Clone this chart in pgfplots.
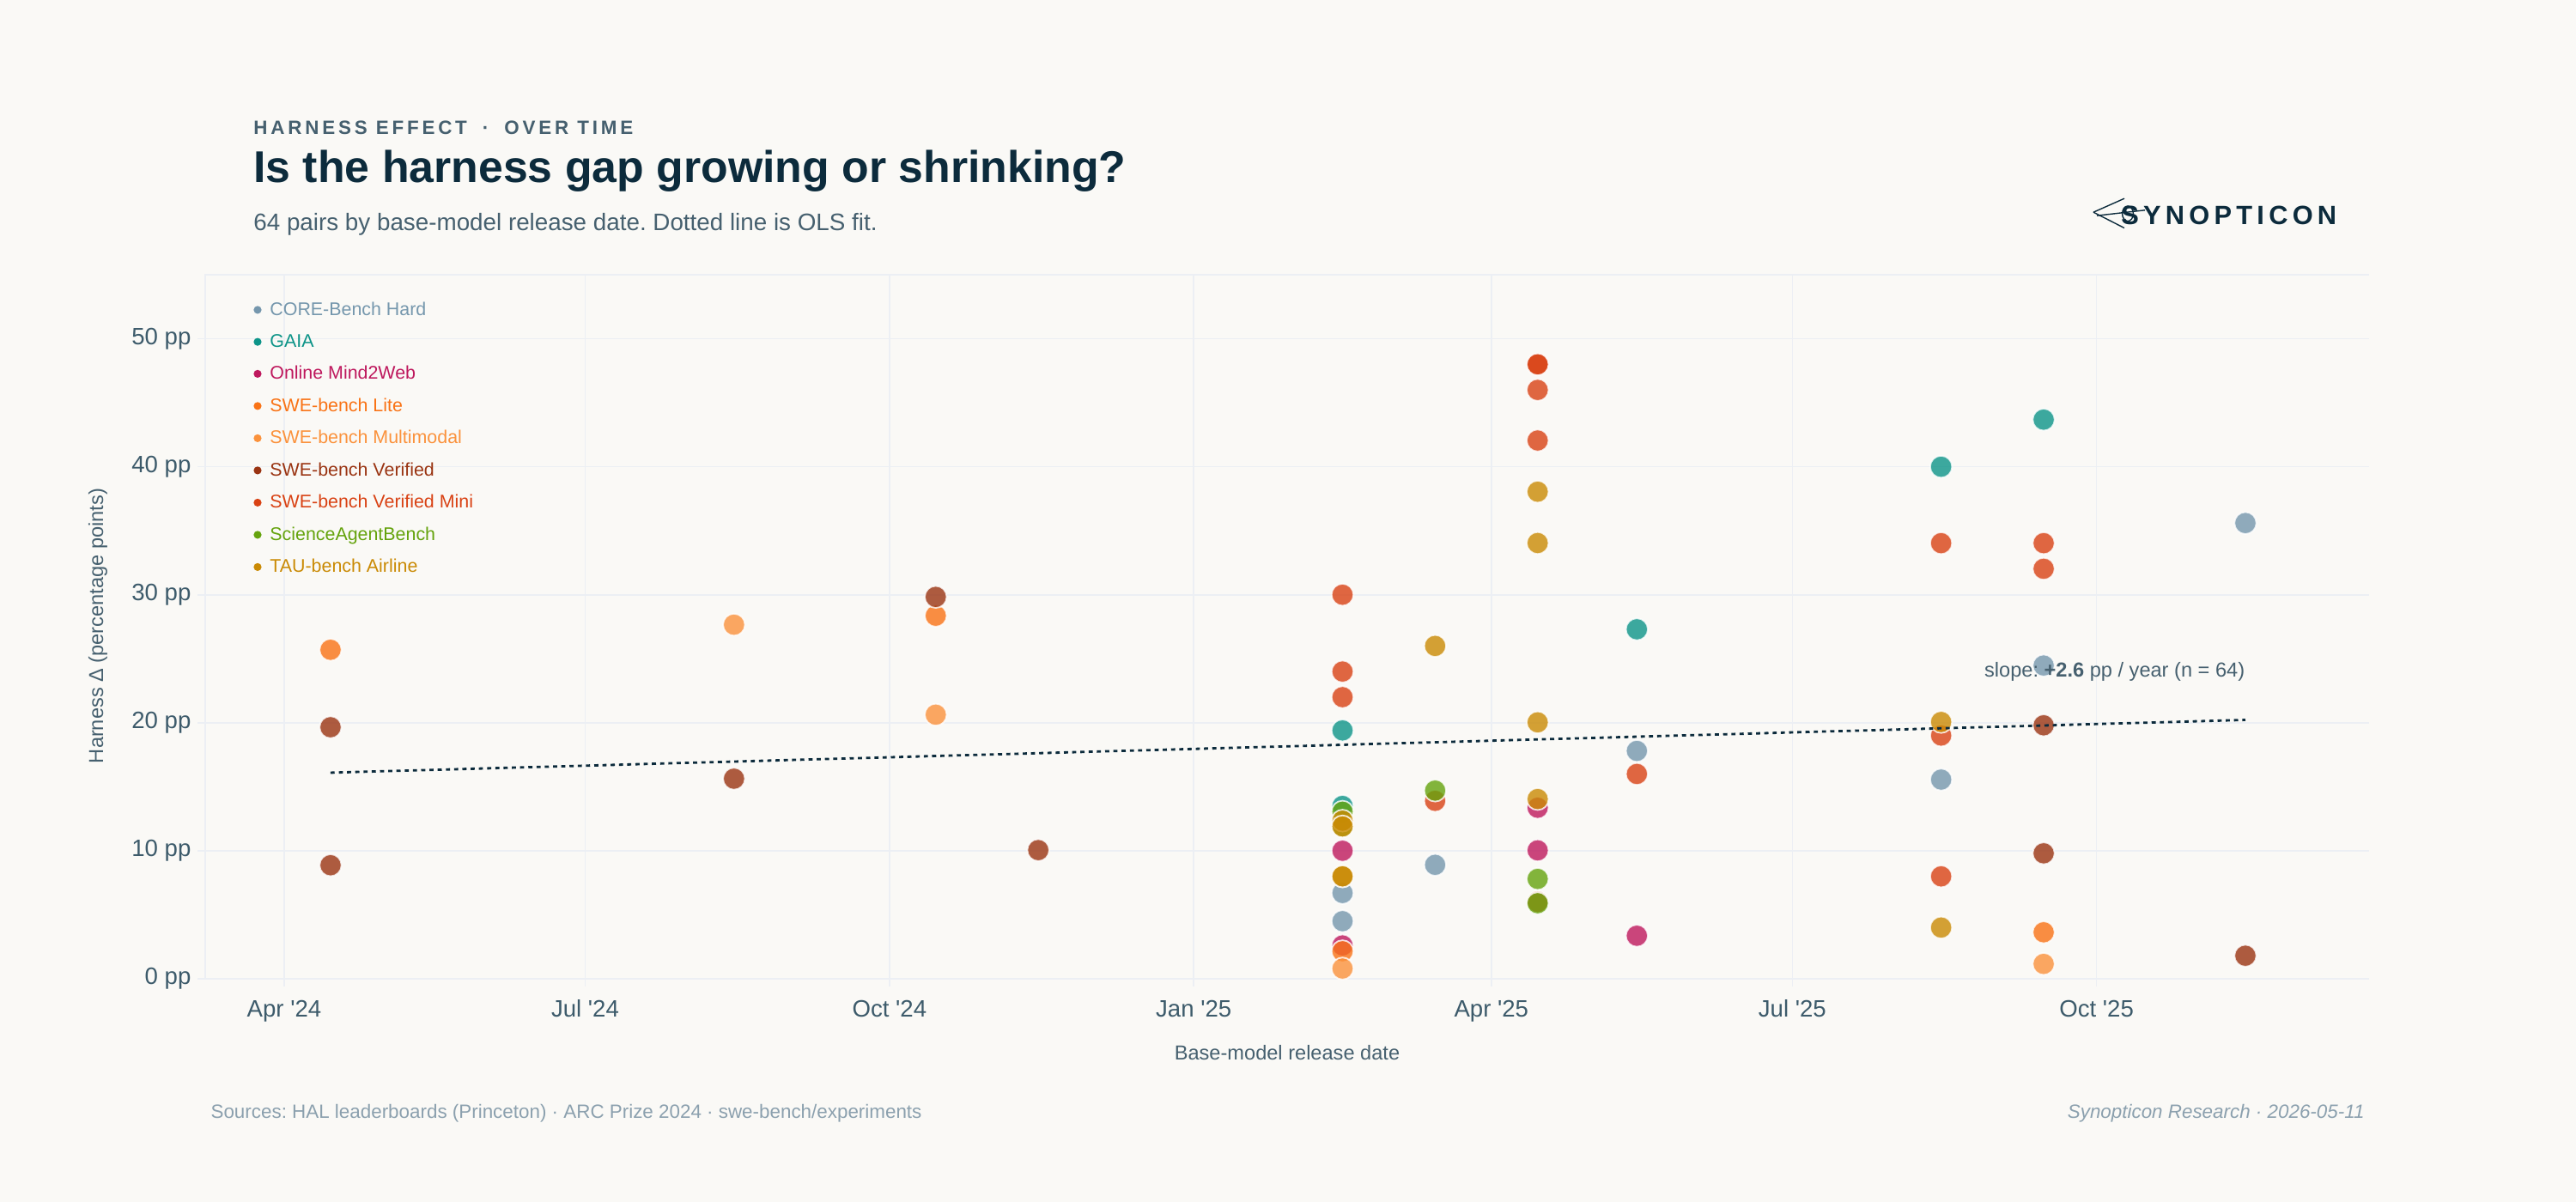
\documentclass[border=0pt]{standalone}
\usepackage{fontspec}
\setmainfont{Liberation Sans}
\usepackage{pgfplots}
\pgfplotsset{compat=1.18}
\frenchspacing

\definecolor{bg}{HTML}{FAF9F6}
\definecolor{navy}{HTML}{0C2B3C}
\definecolor{slate}{HTML}{46606F}
\definecolor{tickc}{HTML}{3D5B6B}
\definecolor{footc}{HTML}{8BA0AE}
\definecolor{gridc}{HTML}{ECEFF4}
\definecolor{cCORE}{HTML}{7597AD}
\definecolor{cGAIA}{HTML}{0D9488}
\definecolor{cM2W}{HTML}{BE185D}
\definecolor{cLITE}{HTML}{F97316}
\definecolor{cMM}{HTML}{FB923C}
\definecolor{cVER}{HTML}{9A3412}
\definecolor{cVM}{HTML}{D94214}
\definecolor{cSCI}{HTML}{65A30D}
\definecolor{cTAU}{HTML}{CA8A04}

\pgfplotsset{
  pt/.style={only marks, mark=*, mark size=3.2pt, draw=white, line width=0.45pt, opacity=0.8, fill=#1},
}

\begin{document}
\frenchspacing
\begin{tikzpicture}[x=1pt,y=1pt]
\fill[bg] (0,0) rectangle (750,350);

% header
\node[anchor=base west, inner sep=0pt, text=slate,
  font=\fontsize{5.6}{6}\selectfont\bfseries\addfontfeatures{LetterSpace=17}]
  at (73.65,310.9) {HARNESS EFFECT\hspace{4.5pt}·\hspace{4.5pt}OVER TIME};
\node[anchor=base west, inner sep=0pt, text=navy,
  font=\fontsize{12.95}{14}\selectfont\bfseries]
  at (73.65,296.8) {Is the harness gap growing or shrinking?};
\node[anchor=base west, inner sep=0pt, text=slate,
  font=\fontsize{6.95}{8}\selectfont]
  at (73.65,282.75) {64 pairs by base-model release date. Dotted line is OLS fit.};

% logo
\draw[navy, line width=0.35pt] (609.5,288.2) -- (618.5,292.2);
\draw[navy, line width=0.35pt] (609.5,288.2) -- (618.5,283.6);
\draw[navy, line width=0.35pt] (610.5,287.2) -- (624.5,288.8);
\draw[navy, line width=0.35pt] (619.5,287.8) ellipse (1.6pt and 2.2pt);
\node[anchor=base west, inner sep=0pt, text=navy,
  font=\fontsize{7.7}{8}\selectfont\bfseries\addfontfeatures{LetterSpace=17}]
  at (617.4,284.6) {SYNOPTICON};

\begin{axis}[
  at={(59.75pt,65pt)}, anchor=south west,
  scale only axis, width=630pt, height=205pt,
  xmin=67.11, xmax=721.4, ymin=0, ymax=55,
  xtick={91,182,274,366,456,547,639},
  xticklabels={Apr \textquotesingle24, Jul \textquotesingle24, Oct \textquotesingle24, Jan \textquotesingle25, Apr \textquotesingle25, Jul \textquotesingle25, Oct \textquotesingle25},
  ytick={0,10,20,30,40,50},
  yticklabels={0 pp,10 pp,20 pp,30 pp,40 pp,50 pp},
  xtick pos=bottom, ytick pos=left,
  grid=major, grid style={draw=gridc, line width=0.4pt},
  axis line style={draw=none},
  tick align=outside, major tick length=2.2pt,
  tick style={draw=gridc, line width=0.4pt},
  ticklabel style={font=\fontsize{6.9}{8}\selectfont, text=tickc},
  xticklabel style={anchor=base, inner sep=0pt, yshift=-8.9pt},
  yticklabel style={anchor=east, inner sep=0pt, xshift=-1.75pt},
  clip mode=individual,
  legend style={at={(rel axis cs:0,1)}, anchor=north west, xshift=14.1pt, yshift=-6.0pt,
    draw=none, fill=none, inner sep=0pt, outer sep=0pt,
    row sep=0pt, column sep=0.45pt,
    font=\fontsize{5.35}{6}\selectfont},
  legend cell align=left,
  legend image code/.code={\fill[#1, draw=none, opacity=1] (0pt,0.45pt) circle (1.15pt);},
]
\draw[gridc, line width=0.4pt] (rel axis cs:0,0) -- (rel axis cs:0,1) -- (rel axis cs:1,1);

\addplot[pt=cCORE] coordinates {(411,6.7) (411,4.5) (439,8.9) (500,17.8) (592,15.56) (623,24.47) (684,35.6)};
\addlegendentry{\textcolor{cCORE}{CORE-Bench Hard}}
\addplot[pt=cGAIA] coordinates {(411,19.4) (411,13.5) (500,27.3) (592,40.0) (623,43.68)};
\addlegendentry{\textcolor{cGAIA}{GAIA}}
\addplot[pt=cM2W] coordinates {(411,10.0) (411,2.6) (470,13.36) (470,10.03) (500,3.36)};
\addlegendentry{\textcolor{cM2W}{Online Mind2Web}}
\addplot[pt=cLITE] coordinates {(105,25.7) (288,28.36) (411,2.15) (623,3.63)};
\addlegendentry{\textcolor{cLITE}{SWE-bench Lite}}
\addplot[pt=cMM] coordinates {(227,27.66) (288,20.63) (411,0.8) (623,1.16)};
\addlegendentry{\textcolor{cMM}{SWE-bench Multimodal}}
\addplot[pt=cVER] coordinates {(105,19.65) (105,8.87) (227,15.63) (288,29.83) (319,10.05) (623,19.8) (623,9.8) (684,1.8)};
\addlegendentry{\textcolor{cVER}{SWE-bench Verified}}
\addplot[pt=cVM] coordinates {(411,30.0) (411,24.0) (411,22.0) (439,13.9) (470,48.0) (470,48.0) (470,46.0) (470,42.05) (470,6.0) (500,16.0) (592,34.03) (592,19.0) (592,8.0) (623,34.03) (623,32.03)};
\addlegendentry{\textcolor{cVM}{SWE-bench Verified Mini}}
\addplot[pt=cSCI] coordinates {(411,13.05) (411,11.9) (439,14.7) (470,7.8) (470,5.9)};
\addlegendentry{\textcolor{cSCI}{ScienceAgentBench}}
\addplot[pt=cTAU] coordinates {(411,12.35) (411,11.9) (411,8.0) (411,8.0) (439,26.0) (470,38.05) (470,34.04) (470,20.03) (470,14.04) (592,20.06) (592,4.0)};
\addlegendentry{\textcolor{cTAU}{TAU-bench Airline}}

\addplot[forget plot, no marks, navy, line width=0.7pt, dash pattern=on 1.2pt off 1.2pt] coordinates {(105,16.1) (684,20.22)};

\node[anchor=east, inner sep=0pt, text=slate, font=\fontsize{5.9}{7}\selectfont]
  at (axis cs:684,24.0) {slope: \textbf{+2.6} pp / year (n = 64)};
\end{axis}

% axis titles
\node[inner sep=0pt, text=slate, font=\fontsize{5.9}{7}\selectfont] at (374.75,43.5) {Base-model release date};
\node[rotate=90, inner sep=0pt, text=slate, font=\fontsize{5.9}{7}\selectfont] at (28.5,167.75) {Harness Δ (percentage points)};

% footer
\node[anchor=base west, inner sep=0pt, text=footc, font=\fontsize{5.6}{6}\selectfont]
  at (61.2,24.25) {Sources: HAL leaderboards (Princeton) · ARC Prize 2024 · swe-bench/experiments};
\node[anchor=base east, inner sep=0pt, text=footc, font=\fontsize{5.6}{6}\selectfont\itshape]
  at (688.6,24.25) {Synopticon Research · 2026-05-11};
\end{tikzpicture}
\end{document}
